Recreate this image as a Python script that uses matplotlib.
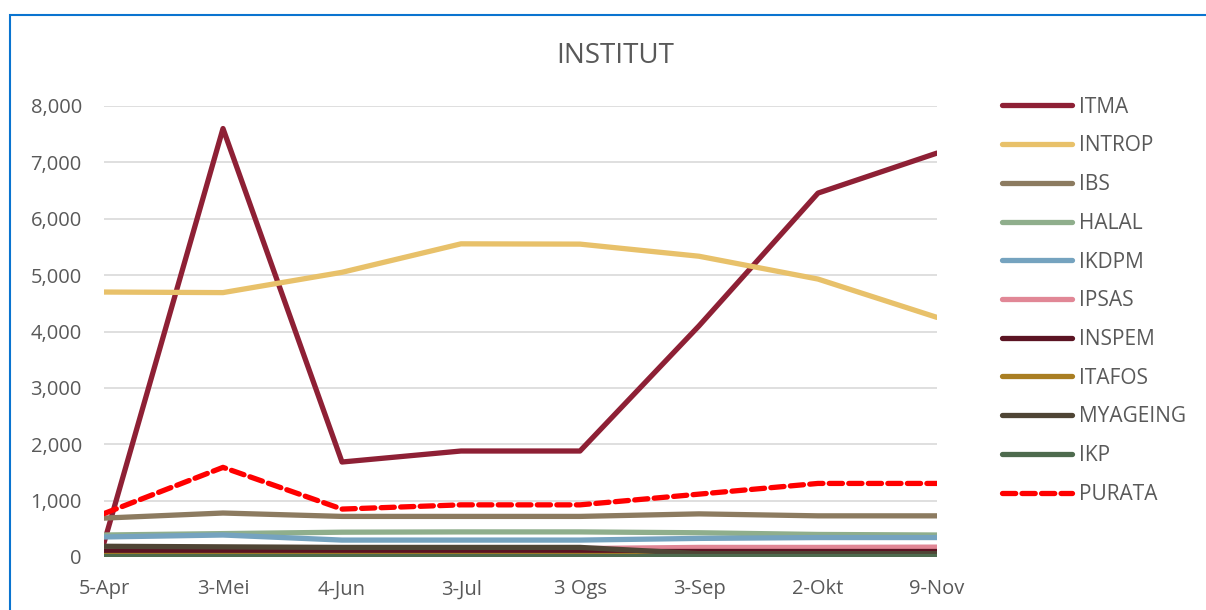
import matplotlib.pyplot as plt
from matplotlib.patches import Rectangle

plt.rcParams['font.family'] = ['Open Sans', 'DejaVu Sans']

months = ['5-Apr', '3-Mei', '4-Jun', '3-Jul', '3 Ogs', '3-Sep', '2-Okt', '9-Nov']

itma = [250, 7600, 1685, 1880, 1880, 4100, 6455, 7165]
introp = [4700, 4690, 5050, 5555, 5550, 5335, 4930, 4250]
ibs = [690, 780, 720, 720, 720, 765, 730, 730]
halal = [390, 415, 440, 445, 445, 430, 400, 390]
ikdpm = [355, 390, 300, 300, 300, 330, 345, 345]
ipsas = [170, 160, 150, 150, 150, 170, 170, 175]
inspem = [100, 100, 100, 100, 100, 100, 100, 100]
itafos = [40, 40, 40, 40, 40, 40, 40, 40]
myageing = [190, 180, 170, 170, 170, 60, 60, 60]
ikp = [15, 15, 15, 15, 15, 15, 15, 15]
purata = [770, 1590, 850, 925, 925, 1115, 1305, 1305]

series = [
    ('ITMA', itma, '#8E2035'),
    ('INTROP', introp, '#E8C16A'),
    ('IBS', ibs, '#8C7B60'),
    ('HALAL', halal, '#8FAE8C'),
    ('IKDPM', ikdpm, '#75A3BF'),
    ('IPSAS', ipsas, '#E18796'),
    ('INSPEM', inspem, '#5B1423'),
    ('ITAFOS', itafos, '#A97E22'),
    ('MYAGEING', myageing, '#4F4535'),
    ('IKP', ikp, '#4E6B4E'),
]

grey = '#595959'

fig = plt.figure(figsize=(12.06, 6.10), dpi=100)
fig.patches.append(Rectangle((10 / 1206, -0.1), 1.2, 1 - 15 / 610 + 0.1,
                             transform=fig.transFigure, fill=False,
                             edgecolor='#0a74d0', linewidth=1.5))

ax = fig.add_axes([104 / 1206, 1 - 557 / 610, 833 / 1206, 451 / 610])
x = range(len(months))
for name, vals, col in series:
    ax.plot(x, vals, color=col, lw=3.8, label=name, solid_capstyle='round')
ax.plot(x, purata, color='#FF0000', lw=3.8, ls=(0, (2.5, 1.2)), label='PURATA',
        dash_capstyle='round')

ax.set_xlim(0, len(months) - 1)
ax.set_ylim(0, 8000)
ax.set_yticks(range(0, 8001, 1000))
ax.set_yticklabels([f'{v:,}' for v in range(0, 8001, 1000)])
ax.set_xticks(list(x))
ax.set_xticklabels(months)
ax.tick_params(length=0, labelsize=14.5, colors=grey, pad=16)
ax.tick_params(axis='x', pad=16)
ax.grid(axis='y', color='#d9d9d9', lw=1.2)
ax.set_axisbelow(True)
for s in ax.spines.values():
    s.set_visible(False)

fig.text(615 / 1206, 1 - 56 / 610, 'INSTITUT', ha='center', va='center',
         fontsize=20, color=grey)

fig.legend(loc='upper left', bbox_to_anchor=(983 / 1206, 1 - 78 / 610),
           frameon=False, fontsize=15, labelcolor=grey, handlelength=3.35,
           labelspacing=0.85, handletextpad=0.35)

fig.savefig('out.png', dpi=100)
